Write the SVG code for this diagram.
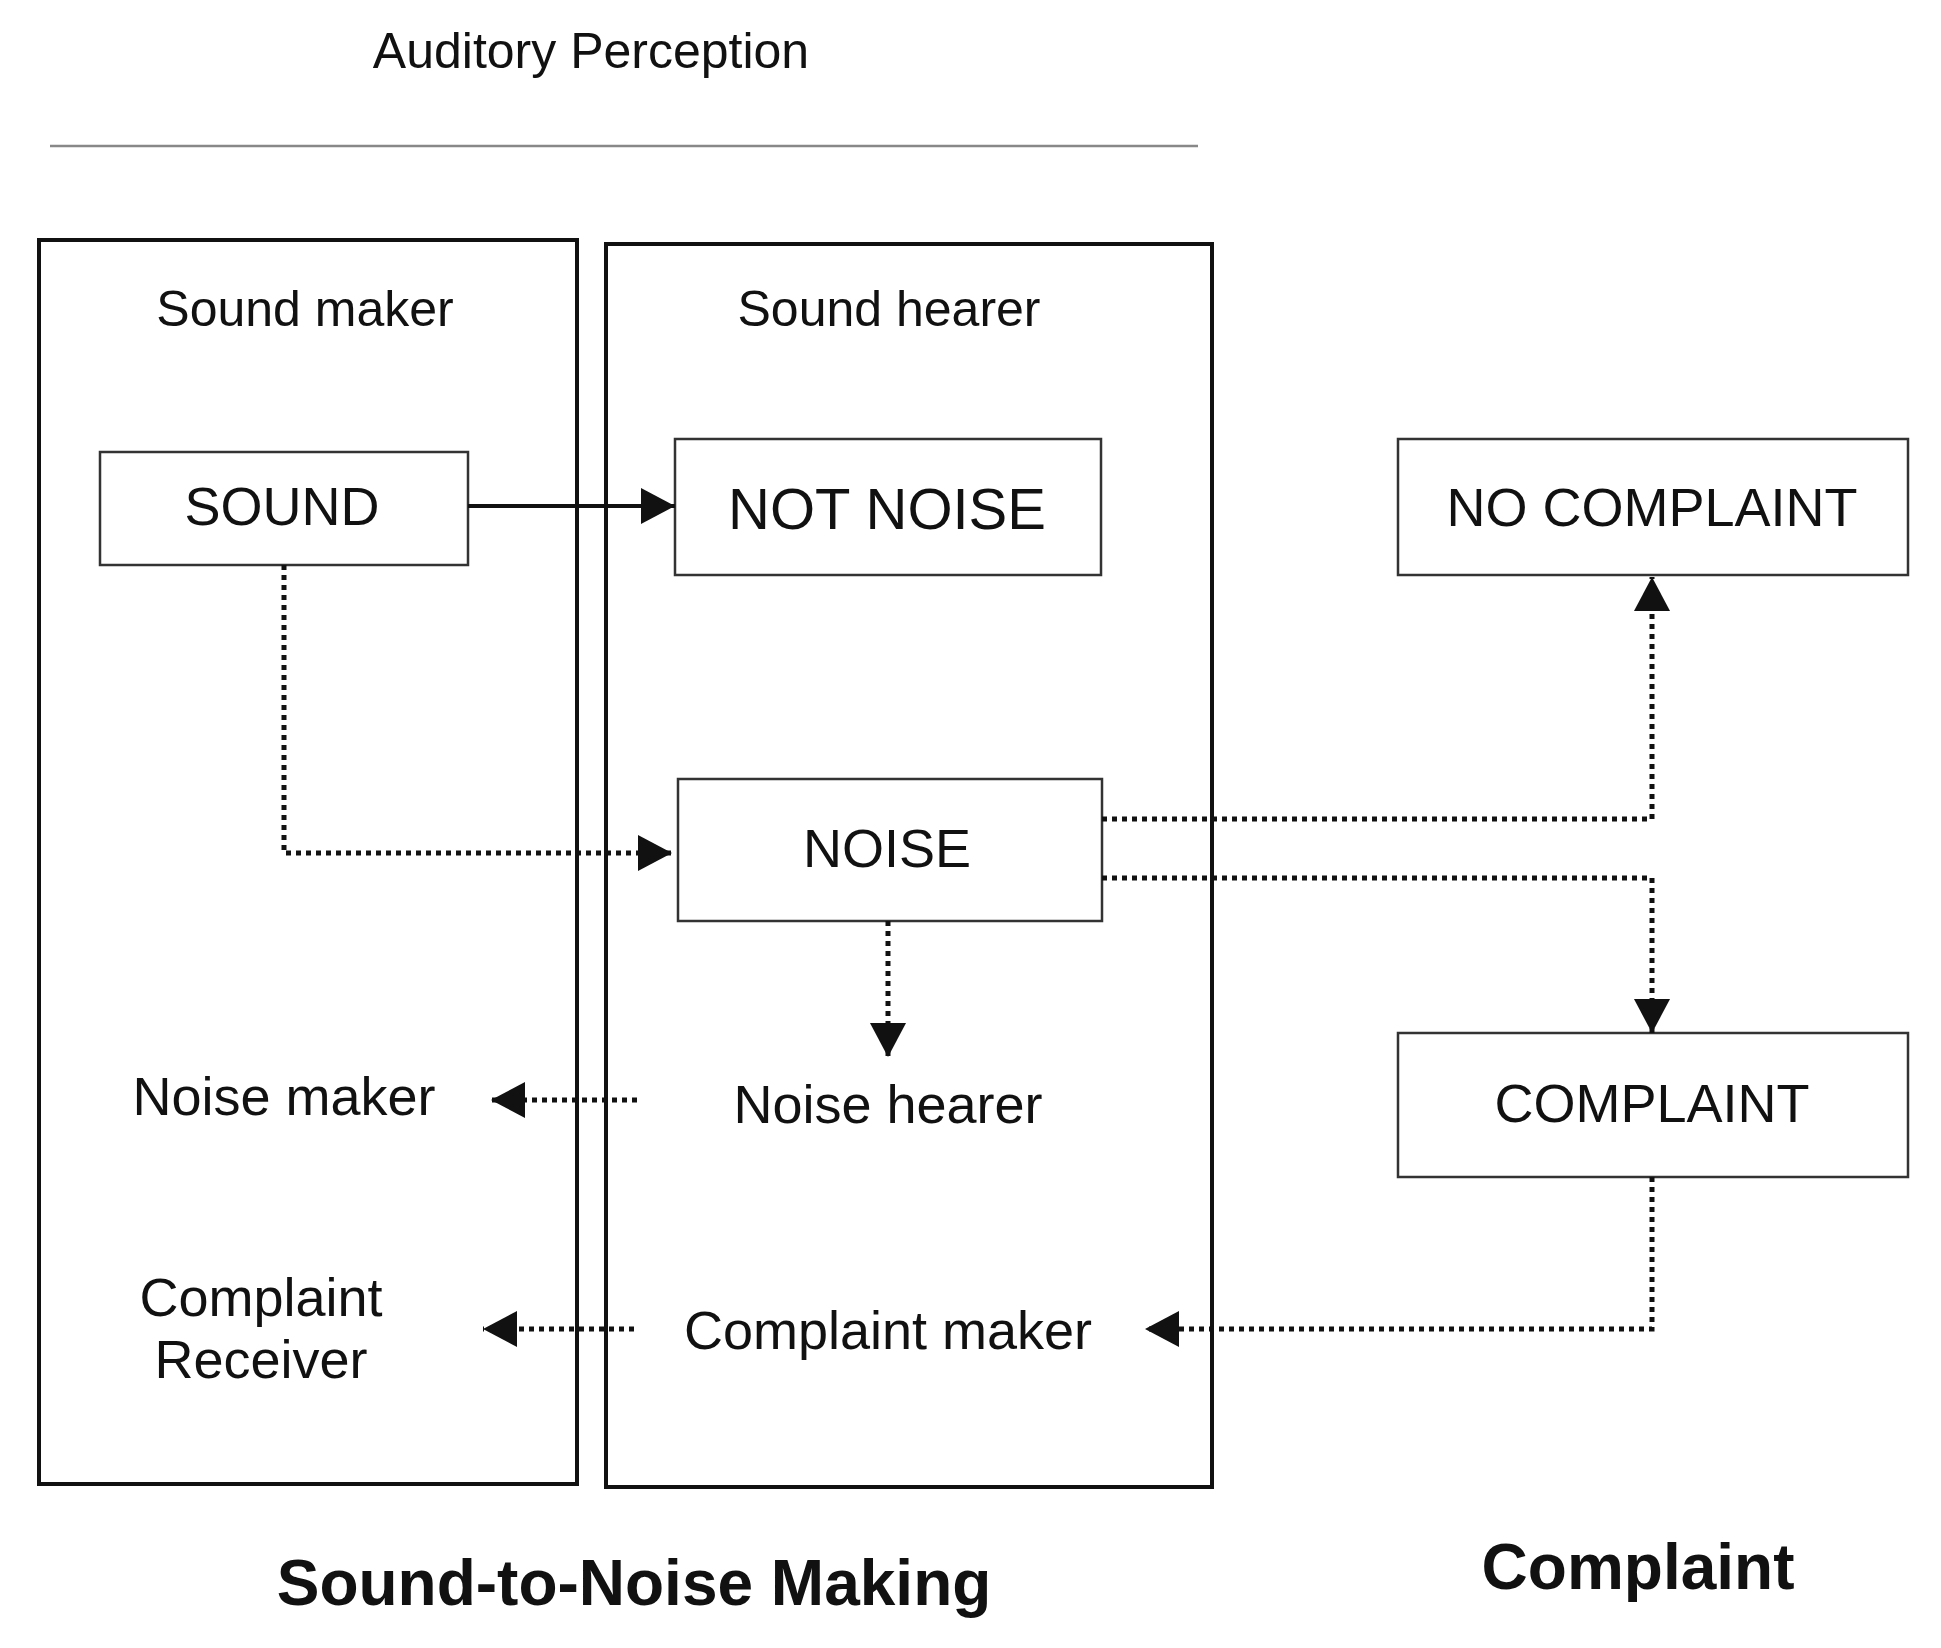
<svg xmlns="http://www.w3.org/2000/svg" width="1941" height="1648" viewBox="0 0 1941 1648">
<style>
text{font-family:"Liberation Sans",Arial,sans-serif;fill:#111;text-anchor:middle}
.t{font-size:50px}
.n{font-size:54px}
.b{font-size:64px;font-weight:bold}
.frame{fill:none;stroke:#111;stroke-width:4}
.box{fill:#fff;stroke:#333;stroke-width:2.5}
.solid{fill:none;stroke:#111;stroke-width:4}
.dot{fill:none;stroke:#111;stroke-width:5;stroke-dasharray:5 5}
</style>
<defs>
<marker id="ah" markerUnits="userSpaceOnUse" markerWidth="36" markerHeight="36" refX="34" refY="18" orient="auto">
<path d="M0,0 L34,18 L0,36 Z" fill="#111"/>
</marker>
</defs>
<g id="title"><text class="t" x="591" y="68">Auditory Perception</text>
<line x1="50" y1="146" x2="1198" y2="146" stroke="#888" stroke-width="2.5"/></g>
<g id="sound-maker-frame"><rect class="frame" x="39" y="240" width="538" height="1244"/><text class="t" x="305" y="326">Sound maker</text></g>
<g id="sound-hearer-frame"><rect class="frame" x="606" y="244" width="606" height="1243"/><text class="t" x="889" y="326">Sound hearer</text></g>
<g id="sound"><rect class="box" x="100" y="452" width="368" height="113"/><text class="n" x="282" y="525">SOUND</text></g>
<g id="not-noise"><rect class="box" x="675" y="439" width="426" height="136"/><text class="n" x="887" y="529" style="font-size:58px">NOT NOISE</text></g>
<g id="no-complaint"><rect class="box" x="1398" y="439" width="510" height="136"/><text class="n" x="1652" y="526">NO COMPLAINT</text></g>
<g id="noise"><rect class="box" x="678" y="779" width="424" height="142"/><text class="n" x="887" y="867">NOISE</text></g>
<g id="complaint"><rect class="box" x="1398" y="1033" width="510" height="144"/><text class="n" x="1652" y="1122">COMPLAINT</text></g>
<g id="noise-maker"><text class="n" x="284" y="1115">Noise maker</text></g>
<g id="noise-hearer"><text class="n" x="888" y="1123">Noise hearer</text></g>
<g id="complaint-receiver"><text class="n" x="261" y="1316">Complaint</text><text class="n" x="261" y="1378">Receiver</text></g>
<g id="complaint-maker"><text class="n" x="888" y="1349">Complaint maker</text></g>
<g id="footer"><text class="b" x="634" y="1605">Sound-to-Noise Making</text><text class="b" x="1638" y="1589">Complaint</text></g>
<g id="connectors">
<line class="solid" x1="468" y1="506" x2="675" y2="506" marker-end="url(#ah)"/>
<path class="dot" d="M284,565 V853 H672" marker-end="url(#ah)"/>
<path class="dot" d="M1102,819 H1652 V577" marker-end="url(#ah)"/>
<path class="dot" d="M1102,878 H1652 V1033" marker-end="url(#ah)"/>
<path class="dot" d="M888,921 V1057" marker-end="url(#ah)"/>
<path class="dot" d="M637,1100 H491" marker-end="url(#ah)"/>
<path class="dot" d="M1652,1177 V1329 H1145" marker-end="url(#ah)"/>
<path class="dot" d="M634,1329 H483" marker-end="url(#ah)"/>
</g>
</svg>
